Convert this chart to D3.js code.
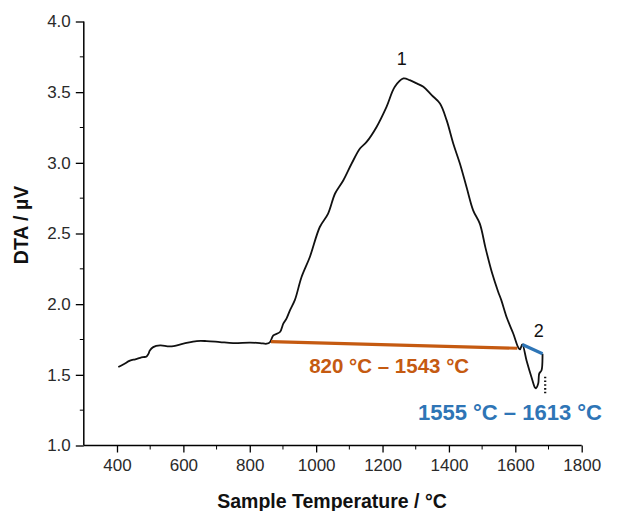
<!DOCTYPE html>
<html>
<head>
<meta charset="utf-8">
<script src="https://cdn.jsdelivr.net/npm/d3@7"></script>
<style>
  body { margin: 0; background: #fff; }
  svg { display: block; font-family: "Liberation Sans", Arial, sans-serif; }
  .tick-label { font-size: 17px; fill: #2a2a2a; }
  .axis-title { font-size: 19.5px; font-weight: bold; fill: #111; }
  .range-label { font-weight: bold; }
  .peak-label { font-size: 18px; fill: #111; }
</style>
</head>
<body>
<svg id="chart"></svg>
<script>
// tick values
const xTicks = [400, 600, 800, 1000, 1200, 1400, 1600, 1800];
const yTicks = [1.0, 1.5, 2.0, 2.5, 3.0, 3.5, 4.0];

// DTA trace (sample temperature in °C, signal in µV)
const sampleTemp = [404, 420, 439, 455, 470, 479, 489, 495, 499, 509, 530, 560, 600, 640, 670, 710, 750,
  801, 831, 851, 861, 871, 891, 901, 911, 921, 936, 956, 981, 1011, 1036, 1057, 1082, 1107, 1132,
  1152, 1182, 1212, 1237, 1263, 1282, 1303, 1323, 1348, 1373, 1393, 1413, 1433, 1453, 1473, 1493,
  1510, 1530, 1548, 1558, 1575, 1594, 1609, 1614, 1621, 1634, 1649, 1659, 1662, 1669, 1672, 1679, 1682, 1682];
const dtaSignal = [1.555, 1.575, 1.600, 1.610, 1.620, 1.625, 1.630, 1.650, 1.673, 1.696, 1.708, 1.701, 1.720, 1.739, 1.739, 1.732, 1.725,
  1.728, 1.725, 1.720, 1.732, 1.779, 1.803, 1.862, 1.900, 1.956, 2.030, 2.192, 2.334, 2.546, 2.641, 2.783, 2.877, 2.995, 3.101,
  3.148, 3.254, 3.396, 3.538, 3.597, 3.585, 3.562, 3.538, 3.479, 3.420, 3.302, 3.137, 2.995, 2.829, 2.664, 2.570,
  2.400, 2.220, 2.090, 2.027, 1.900, 1.791, 1.693, 1.680, 1.715, 1.600, 1.481, 1.410, 1.405, 1.438, 1.509, 1.532, 1.638, 1.649];

// integration baselines
const baseline1Temp = [864, 1606];
const baseline1Dta = [1.735, 1.688];
const baseline2Temp = [1621, 1682];
const baseline2Dta = [1.715, 1.649];

// dotted continuation at the end of the run
const tailTemp = [1690, 1690];
const tailDta = [1.487, 1.370];

// annotations
const peakNames = ['1', '2'];
const peakTemp = [1258, 1671];
const peakDta = [3.693, 1.768];
const rangeTexts = ['820 °C – 1543 °C', '1555 °C – 1613 °C'];
const rangeTemp = [1220, 1584];
const rangeDta = [1.513, 1.178];
const rangeColors = ['#c55a11', '#2e75b6'];
const rangeSizes = [20.5, 22];

const width = 630, height = 511;
const margin = { top: 21.5, right: 48.3, bottom: 65.5, left: 83.8 };

const svg = d3.select('#chart')
  .attr('width', width)
  .attr('height', height);

const x = d3.scaleLinear()
  .domain([300, 1800])
  .range([margin.left, width - margin.right]);

const y = d3.scaleLinear()
  .domain([1.0, 4.0])
  .range([height - margin.bottom, margin.top]);

// --------- Axes ---------
const xAxis = d3.axisBottom(x)
  .tickValues(xTicks)
  .tickSize(7)
  .tickPadding(6)
  .tickFormat(d3.format('d'));

const xAxisG = svg.append('g')
  .attr('transform', `translate(0,${y(1.0)})`)
  .call(xAxis);

// minor ticks every 100 °C
xAxisG.selectAll('.minor')
  .data(d3.range(500, 1800, 200))
  .join('line')
  .attr('class', 'minor')
  .attr('x1', d => x(d)).attr('x2', d => x(d))
  .attr('y1', 0).attr('y2', 4)
  .attr('stroke', '#000');

const yAxis = d3.axisLeft(y)
  .tickValues(yTicks)
  .tickSize(8)
  .tickPadding(5)
  .tickFormat(d3.format('.1f'));

const yAxisG = svg.append('g')
  .attr('transform', `translate(${x(300)},0)`)
  .call(yAxis);

yAxisG.selectAll('.minor')
  .data(d3.range(1.25, 4.0, 0.5))
  .join('line')
  .attr('class', 'minor')
  .attr('y1', d => y(d)).attr('y2', d => y(d))
  .attr('x1', 0).attr('x2', -4)
  .attr('stroke', '#000');

[xAxisG, yAxisG].forEach(g => {
  g.select('.domain').attr('stroke', '#000').attr('stroke-width', 1.5);
  g.selectAll('.tick line').attr('stroke', '#000').attr('stroke-width', 1.3);
  g.selectAll('.tick text')
    .attr('class', 'tick-label')
    .attr('font-family', null)
    .attr('font-size', null);
});
// the x domain line starts at the y axis, no outer end tick
xAxisG.select('.domain').attr('d', `M${x(300)},0H${x(1800)}`);
yAxisG.select('.domain').attr('d', `M0,${y(1.0)}V${y(4.0)}`);

svg.append('text')
  .attr('class', 'axis-title')
  .attr('x', 332)
  .attr('y', 508)
  .attr('text-anchor', 'middle')
  .text('Sample Temperature / °C');

svg.append('text')
  .attr('class', 'axis-title')
  .attr('transform', `translate(28,${225}) rotate(-90)`)
  .attr('text-anchor', 'middle')
  .text('DTA / µV');

// --------- Curve ---------
const line = d3.line()
  .x(i => x(sampleTemp[i]))
  .y(i => y(dtaSignal[i]))
  .curve(d3.curveCatmullRom.alpha(0.5));

svg.append('path')
  .attr('d', line(d3.range(sampleTemp.length)))
  .attr('fill', 'none')
  .attr('stroke', '#111')
  .attr('stroke-width', 1.8)
  .attr('stroke-linejoin', 'round');

// baselines
const baseLine = (temps, vals) => d3.line()
  .x(i => x(temps[i]))
  .y(i => y(vals[i]))(d3.range(temps.length));

svg.append('path')
  .attr('d', baseLine(baseline1Temp, baseline1Dta))
  .attr('stroke', rangeColors[0])
  .attr('stroke-width', 3.2)
  .attr('fill', 'none');

svg.append('path')
  .attr('d', baseLine(baseline2Temp, baseline2Dta))
  .attr('stroke', rangeColors[1])
  .attr('stroke-width', 3.2)
  .attr('fill', 'none');

svg.append('path')
  .attr('d', baseLine(tailTemp, tailDta))
  .attr('stroke', '#111')
  .attr('stroke-width', 2.2)
  .attr('stroke-dasharray', '1.6,2.2')
  .attr('fill', 'none');

// --------- Annotations ---------
svg.selectAll('.peak-label')
  .data(peakNames)
  .join('text')
  .attr('class', 'peak-label')
  .attr('x', (d, i) => x(peakTemp[i]))
  .attr('y', (d, i) => y(peakDta[i]))
  .attr('text-anchor', 'middle')
  .text(d => d);

svg.selectAll('.range-label')
  .data(rangeTexts)
  .join('text')
  .attr('class', 'range-label')
  .attr('x', (d, i) => x(rangeTemp[i]))
  .attr('y', (d, i) => y(rangeDta[i]))
  .attr('text-anchor', 'middle')
  .attr('font-size', (d, i) => rangeSizes[i] + 'px')
  .attr('fill', (d, i) => rangeColors[i])
  .text(d => d);
</script>
</body>
</html>
